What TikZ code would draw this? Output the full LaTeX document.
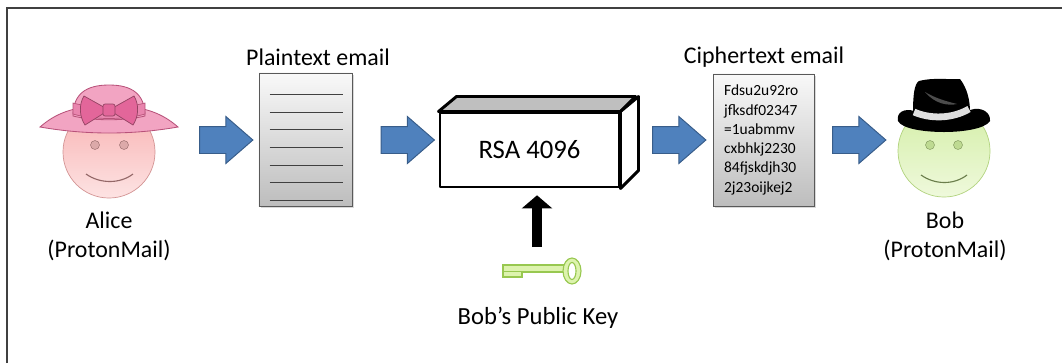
\documentclass[tikz,border=0pt]{standalone}
\usepackage{fontspec}
\setmainfont{Carlito}
\usetikzlibrary{arrows.meta, positioning, calc, shapes.arrows, shadows}

\definecolor{arrowblue}{HTML}{4F81BD}
\definecolor{arrowedge}{HTML}{385D8A}
\definecolor{docshade}{HTML}{BDBDBD}
\definecolor{alicepink}{HTML}{F8B2B2}
\definecolor{alicelight}{HTML}{FDE3E3}
\definecolor{aliceedge}{HTML}{D39494}
\definecolor{hatpink}{HTML}{F2A4C2}
\definecolor{hatedge}{HTML}{B8527A}
\definecolor{bowpink}{HTML}{E3669A}
\definecolor{bobgreen}{HTML}{D3EEA6}
\definecolor{boblight}{HTML}{EFF9DC}
\definecolor{bobedge}{HTML}{B2D37F}
\definecolor{keygreen}{HTML}{DDF3AE}
\definecolor{keyedge}{HTML}{98C850}

\begin{document}
\begin{tikzpicture}[x=0.025cm, y=-0.025cm,
  lbl/.style = {font=\fontsize{17}{20.6}\selectfont, align=center, inner sep=0pt},
  blockarrow/.style = {single arrow, draw=arrowedge, fill=arrowblue, line width=0.7pt,
    minimum height=1.33cm, inner xsep=0pt, inner ysep=0.325cm,
    single arrow head extend=0.25cm, single arrow tip angle=82},
  doc/.style = {draw=gray!70!black, line width=0.6pt, top color=white!95!gray,
    bottom color=docshade,
    drop shadow={opacity=0.3, shadow xshift=0.05cm, shadow yshift=-0.05cm}},
  face/.style = {circle, minimum size=2.3cm, inner sep=0pt, line width=0.5pt},
  box3d/.style = {draw=black, line width=2.1pt, line join=round},
  keyarrow/.style = {line width=0.25cm, -{Triangle[width=0.75cm, length=0.33cm]}},
  keypart/.style = {fill=keygreen, draw=keyedge, line width=0.8pt}
]

\useasboundingbox (0,0) rectangle (1062,363);

% Frame (top and left edge only)
\draw[line width=0.05cm, black!75] (7,363) -- (7,8) -- (1062,8);

% ---------- Alice ----------
\node[face, draw=aliceedge, top color=alicepink, bottom color=alicelight] (alice) at (109,152) {};
\filldraw[fill=aliceedge!80, draw=aliceedge!70!black, line width=0.3pt] (95,145) circle [radius=4.5];
\filldraw[fill=aliceedge!80, draw=aliceedge!70!black, line width=0.3pt] (124,145) circle [radius=4.5];
\draw[aliceedge!70!black, line width=0.8pt] (86,174) .. controls (100,184) and (120,184) .. (133,174);

% hat: brim, crown, band, bow
\filldraw[fill=hatpink, draw=hatedge, line width=0.6pt]
  (40,127) .. controls (55,114) and (72,106) .. (109,105)
  .. controls (146,106) and (163,114) .. (178,127)
  .. controls (155,131) and (132,133) .. (109,133)
  .. controls (86,133) and (63,131) .. (40,127) -- cycle;
\filldraw[fill=hatpink, draw=hatedge, line width=0.6pt]
  (73,116) .. controls (73,94) and (86,85) .. (109,85)
  .. controls (132,85) and (145,94) .. (145,116)
  .. controls (125,121) and (93,121) .. (73,116) -- cycle;
\filldraw[fill=bowpink!80, draw=hatedge, line width=0.5pt]
  (73,103) .. controls (95,109) and (123,109) .. (145,103)
  -- (145,114) .. controls (125,120) and (93,120) .. (73,114) -- cycle;
\filldraw[fill=bowpink, draw=hatedge!80!black, line width=0.5pt]
  (109,110) -- (84,96) .. controls (79,104) and (79,116) .. (85,125) -- cycle;
\filldraw[fill=bowpink, draw=hatedge!80!black, line width=0.5pt]
  (109,110) -- (134,96) .. controls (139,104) and (139,116) .. (133,125) -- cycle;
\filldraw[fill=bowpink, draw=hatedge!80!black, line width=0.5pt, rounded corners=1.5pt]
  (103,104) rectangle (115,116);

\node[lbl] (alicename) at (109,236) {Alice\\(ProtonMail)};

% ---------- plaintext ----------
\node[blockarrow] (arr1) at (218.5,140) {};
\node[doc, minimum width=2.325cm, minimum height=3.325cm] (plain) at (305.5,139.5) {};
\foreach \k in {0,...,6}
  \draw[black!75, line width=0.5pt] ($(plain.north west)+(11,{22+17.6*\k})$) -- ($(plain.north east)+(-9,{22+17.6*\k})$);
\node[lbl] (plaintitle) at (318,57) {Plaintext email};

% ---------- RSA box ----------
\node[blockarrow] (arr2) at (400,140) {};
\node[box3d, fill=white, minimum width=4.475cm, minimum height=1.85cm,
      font=\fontsize{19}{22}\selectfont] (rsa) at (529.5,150) {RSA 4096};
\filldraw[box3d, fill=gray!50] (rsa.north west) -- ++(18,-15) -- ++(179,0) -- (rsa.north east) -- cycle;
\filldraw[box3d, fill=white] (rsa.north east) -- ++(18,-15) -- ++(0,74) -- (rsa.south east) -- cycle;

% key and its arrow
\coordinate (keytop) at (537,247);
\draw[keyarrow, shorten >=0.17cm] (keytop) -- (keytop |- rsa.south);
\path[keypart] (503,277) -- (503,265) -- (565,265) -- (565,272) -- (522,272) -- (522,277) -- cycle;
\draw[keyedge, line width=0.5pt] (503,271) -- (522,271);
\path[keypart, even odd rule] (572,271) ellipse [x radius=9, y radius=13]
  (572,271) ellipse [x radius=4, y radius=8.5];
\node[lbl, font=\fontsize{17.5}{21}\selectfont] (keyname) at (538,318) {Bob’s Public Key};

% ---------- ciphertext ----------
\node[blockarrow] (arr3) at (671.5,140) {};
\node[doc, minimum width=2.525cm, minimum height=3.3cm, text width=1.97cm,
      align=left, inner xsep=0.27cm, font=\fontsize{11}{13.7}\selectfont] (cipher) at (763.5,140)
  {Fdsu2u92ro\\jfksdf02347\\=1uabmmv\\cxbhkj2230\\84fjskdjh30\\2j23oijkej2};
\node[lbl] (ciphertitle) at (764,57) {Ciphertext email};

% ---------- Bob ----------
\node[blockarrow] (arr4) at (851.5,140) {};
\node[face, draw=bobedge, top color=bobgreen, bottom color=boblight] (bob) at (944,151) {};
\filldraw[fill=bobedge!85, draw=bobedge!70!black, line width=0.3pt] (930,145) circle [radius=4.5];
\filldraw[fill=bobedge!85, draw=bobedge!70!black, line width=0.3pt] (958,145) circle [radius=4.5];
\draw[bobedge!60!black, line width=0.8pt] (921,175) .. controls (935,185) and (954,185) .. (967,175);

% fedora: brim, crown, band, highlight
\fill[black]
  (898,121) .. controls (896,112) and (905,108) .. (914,111)
  .. controls (930,118) and (955,118) .. (970,110)
  .. controls (982,106) and (991,113) .. (990,121)
  .. controls (985,129) and (962,132) .. (944,132)
  .. controls (925,132) and (902,129) .. (898,121) -- cycle;
\fill[black]
  (913,114) .. controls (913,96) and (914,84) .. (919,81)
  .. controls (935,77) and (950,80) .. (960,79)
  .. controls (967,88) and (970,100) .. (970,112)
  .. controls (950,120) and (930,120) .. (913,114) -- cycle;
\draw[gray!25, line width=0.17cm] (914,112) .. controls (930,119) and (952,119) .. (969,109);
\fill[gray!60!black]
  (925,92) .. controls (935,104) and (948,106) .. (957,104)
  .. controls (945,101) and (935,98) .. (925,92) -- cycle;

\node[lbl] (bobname) at (945,236) {Bob\\(ProtonMail)};

\end{tikzpicture}
\end{document}
